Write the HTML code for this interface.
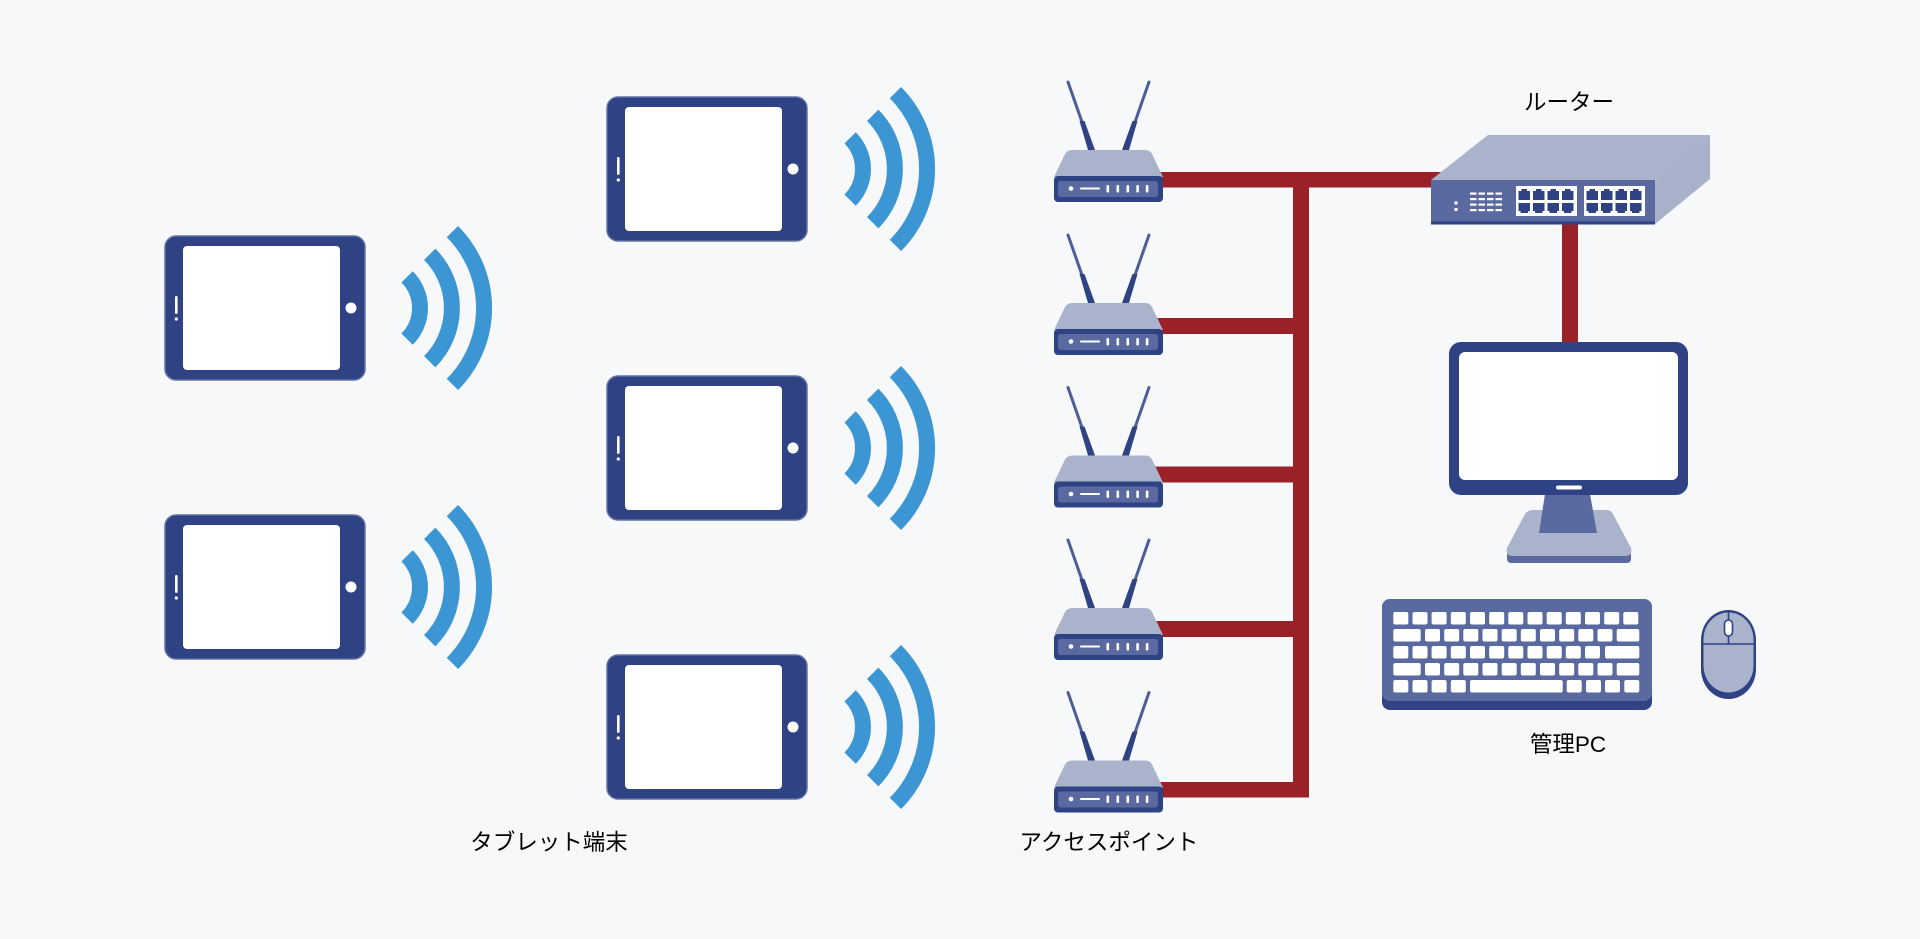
<!DOCTYPE html>
<html>
<head>
<meta charset="utf-8">
<style>
  html,body{margin:0;padding:0;background:#f7f8fa;}
  svg{display:block;}
  text{font-family:"Liberation Sans","Noto Sans CJK JP",sans-serif;font-size:22.5px;fill:#000;}
</style>
</head>
<body>
<svg width="1920" height="939" viewBox="0 0 1920 939" xmlns="http://www.w3.org/2000/svg">
  <defs>
    <g id="tablet">
      <rect x="0" y="0" width="200" height="144" rx="11" fill="#2e4284" stroke="#6471a6" stroke-width="1.5"/>
      <rect x="18" y="10" width="157" height="124" rx="4" fill="#ffffff"/>
      <circle cx="186" cy="72" r="5.5" fill="#ffffff"/>
      <rect x="10" y="60" width="2.6" height="18" rx="1.2" fill="#ffffff"/>
      <circle cx="11.3" cy="83" r="1.6" fill="#ffffff"/>
    </g>
    <g id="wifi" fill="none" stroke="#3d96d4" stroke-width="16">
      <path d="M31.1,-31.1 A44,44 0 0 1 31.1,31.1"/>
      <path d="M53.7,-53.7 A76,76 0 0 1 53.7,53.7"/>
      <path d="M76.4,-76.4 A108,108 0 0 1 76.4,76.4"/>
    </g>
    <g id="ap">
      <line x1="14" y1="-68" x2="28" y2="-28" stroke="#4d5d98" stroke-width="3" stroke-linecap="round"/>
      <polygon points="25.5,-29 30.5,-29 41,0 34,0" fill="#2e4284"/>
      <line x1="95" y1="-68" x2="81" y2="-28" stroke="#4d5d98" stroke-width="3" stroke-linecap="round"/>
      <polygon points="78.5,-29 83.5,-29 75,0 68,0" fill="#2e4284"/>
      <path d="M19,0 L91,0 Q96,0 98,4 L109,27 L0,27 L11,4 Q13,0 19,0 Z" fill="#aab3cc"/>
      <rect x="0" y="26" width="109" height="26" rx="4" fill="#2e4284"/>
      <rect x="4" y="31" width="100" height="16" rx="2.5" fill="#5a6aa0"/>
      <circle cx="17" cy="38.5" r="2.3" fill="#ffffff"/>
      <rect x="26" y="37.5" width="20" height="2" rx="1" fill="#ffffff"/>
      <rect x="52.5" y="35" width="2.6" height="7.5" rx="1" fill="#ffffff"/>
      <rect x="62.5" y="35" width="2.6" height="7.5" rx="1" fill="#ffffff"/>
      <rect x="72.5" y="35" width="2.6" height="7.5" rx="1" fill="#ffffff"/>
      <rect x="82.3" y="35" width="2.6" height="7.5" rx="1" fill="#ffffff"/>
      <rect x="91.8" y="35" width="2.6" height="7.5" rx="1" fill="#ffffff"/>
    </g>
    <g id="portT">
      <path d="M0,2 h3 v-2 h5.5 v2 h3 v9 h-11.5 Z" fill="#2e4284"/>
    </g>
    <g id="portB">
      <path d="M0,0 h11.5 v8 h-2 v2 h-7.5 v-2 h-2 Z" fill="#2e4284"/>
    </g>
  </defs>

  <rect x="0" y="0" width="1920" height="939" fill="#f7f8fa"/>

  <use href="#tablet" x="165" y="236"/>
  <use href="#wifi" x="376" y="308"/>
  <use href="#tablet" x="165" y="515"/>
  <use href="#wifi" x="376" y="587"/>
  <use href="#tablet" x="607" y="97"/>
  <use href="#wifi" x="819" y="169"/>
  <use href="#tablet" x="607" y="376"/>
  <use href="#wifi" x="819" y="448"/>
  <use href="#tablet" x="607" y="655"/>
  <use href="#wifi" x="819" y="727"/>

  <g fill="#9b2128">
    <rect x="1140" y="172" width="310" height="15.5"/>
    <rect x="1293" y="172" width="16" height="625.5"/>
    <rect x="1140" y="318" width="169" height="16"/>
    <rect x="1140" y="466.5" width="169" height="16"/>
    <rect x="1140" y="621" width="169" height="16"/>
    <rect x="1140" y="782" width="169" height="15.5"/>
    <rect x="1562" y="215" width="16" height="130"/>
  </g>

  <use href="#ap" x="1054" y="150"/>
  <use href="#ap" x="1054" y="303"/>
  <use href="#ap" x="1054" y="455.5"/>
  <use href="#ap" x="1054" y="608"/>
  <use href="#ap" x="1054" y="760.5"/>

  <polygon points="1431,180 1488,135 1710,135 1655,180" fill="#aab3cc"/>
  <polygon points="1655,180 1710,135 1710,179 1655,224" fill="#a8b1ca"/>
  <rect x="1431" y="180" width="224" height="44" fill="#5a6aa0"/>
  <rect x="1431" y="221.5" width="224" height="3" fill="#2e4284"/>
  <g fill="#ffffff">
    <rect x="1454.5" y="201.5" width="3" height="3"/>
    <rect x="1454.5" y="208" width="3" height="3"/>
    <rect x="1470" y="192.5" width="6.5" height="2.2"/><rect x="1478.5" y="192.5" width="6.5" height="2.2"/><rect x="1487" y="192.5" width="6.5" height="2.2"/><rect x="1495.5" y="192.5" width="6.5" height="2.2"/>
    <rect x="1470" y="198" width="6.5" height="2.2"/><rect x="1478.5" y="198" width="6.5" height="2.2"/><rect x="1487" y="198" width="6.5" height="2.2"/><rect x="1495.5" y="198" width="6.5" height="2.2"/>
    <rect x="1470" y="203.5" width="6.5" height="2.2"/><rect x="1478.5" y="203.5" width="6.5" height="2.2"/><rect x="1487" y="203.5" width="6.5" height="2.2"/><rect x="1495.5" y="203.5" width="6.5" height="2.2"/>
    <rect x="1470" y="209" width="6.5" height="2.2"/><rect x="1478.5" y="209" width="6.5" height="2.2"/><rect x="1487" y="209" width="6.5" height="2.2"/><rect x="1495.5" y="209" width="6.5" height="2.2"/>
    <rect x="1516" y="186" width="61" height="30"/>
    <rect x="1584" y="186" width="61" height="30"/>
  </g>
  <use href="#portT" x="1518.5" y="189"/><use href="#portT" x="1533" y="189"/><use href="#portT" x="1547.5" y="189"/><use href="#portT" x="1562" y="189"/>
  <use href="#portB" x="1518.5" y="203"/><use href="#portB" x="1533" y="203"/><use href="#portB" x="1547.5" y="203"/><use href="#portB" x="1562" y="203"/>
  <use href="#portT" x="1586.5" y="189"/><use href="#portT" x="1601" y="189"/><use href="#portT" x="1615.5" y="189"/><use href="#portT" x="1630" y="189"/>
  <use href="#portB" x="1586.5" y="203"/><use href="#portB" x="1601" y="203"/><use href="#portB" x="1615.5" y="203"/><use href="#portB" x="1630" y="203"/>

  <rect x="1507" y="545" width="124" height="18" rx="4" fill="#5a6aa0"/>
  <path d="M1533,510 L1606,510 Q1611,510 1613,514 L1631,548 Q1633,556 1625,556 L1513,556 Q1505,556 1507,548 L1525,514 Q1528,510 1533,510 Z" fill="#aab3cc"/>
  <polygon points="1545,494 1590,494 1597,533 1539,533" fill="#5a6aa0"/>
  <rect x="1449" y="342" width="239" height="153" rx="12" fill="#2e4284"/>
  <rect x="1459" y="352" width="219" height="128" rx="6" fill="#ffffff"/>
  <rect x="1556" y="485.5" width="26" height="4" rx="2" fill="#ffffff"/>

  <rect x="1382" y="599" width="270" height="111" rx="8" fill="#2e4284"/>
  <rect x="1382" y="599" width="270" height="102" rx="8" fill="#5a6aa0"/>
  <g fill="#ffffff">
    <rect x="1393.3" y="612" width="15" height="12.5" rx="2"/><rect x="1412.5" y="612" width="15" height="12.5" rx="2"/><rect x="1431.6" y="612" width="15" height="12.5" rx="2"/><rect x="1450.8" y="612" width="15" height="12.5" rx="2"/><rect x="1470" y="612" width="15" height="12.5" rx="2"/><rect x="1489.2" y="612" width="15" height="12.5" rx="2"/><rect x="1508.3" y="612" width="15" height="12.5" rx="2"/><rect x="1527.5" y="612" width="15" height="12.5" rx="2"/><rect x="1546.7" y="612" width="15" height="12.5" rx="2"/><rect x="1565.8" y="612" width="15" height="12.5" rx="2"/><rect x="1585" y="612" width="15" height="12.5" rx="2"/><rect x="1604.2" y="612" width="15" height="12.5" rx="2"/><rect x="1623.3" y="612" width="15" height="12.5" rx="2"/>
    <rect x="1393.3" y="629" width="27.4" height="12.5" rx="2"/>
    <rect x="1425" y="629" width="15" height="12.5" rx="2"/><rect x="1444.2" y="629" width="15" height="12.5" rx="2"/><rect x="1463.3" y="629" width="15" height="12.5" rx="2"/><rect x="1482.5" y="629" width="15" height="12.5" rx="2"/><rect x="1501.7" y="629" width="15" height="12.5" rx="2"/><rect x="1520.8" y="629" width="15" height="12.5" rx="2"/><rect x="1540" y="629" width="15" height="12.5" rx="2"/><rect x="1559.2" y="629" width="15" height="12.5" rx="2"/><rect x="1578.3" y="629" width="15" height="12.5" rx="2"/><rect x="1597.5" y="629" width="15" height="12.5" rx="2"/>
    <rect x="1616.7" y="629" width="22.6" height="12.5" rx="2"/>
    <rect x="1393.3" y="646" width="15" height="12.5" rx="2"/><rect x="1412.5" y="646" width="15" height="12.5" rx="2"/><rect x="1431.6" y="646" width="15" height="12.5" rx="2"/><rect x="1450.8" y="646" width="15" height="12.5" rx="2"/><rect x="1470" y="646" width="15" height="12.5" rx="2"/><rect x="1489.2" y="646" width="15" height="12.5" rx="2"/><rect x="1508.3" y="646" width="15" height="12.5" rx="2"/><rect x="1527.5" y="646" width="15" height="12.5" rx="2"/><rect x="1546.7" y="646" width="15" height="12.5" rx="2"/><rect x="1565.8" y="646" width="15" height="12.5" rx="2"/><rect x="1585" y="646" width="15" height="12.5" rx="2"/>
    <rect x="1605" y="646" width="34.3" height="12.5" rx="2"/>
    <rect x="1393.3" y="663" width="27.4" height="12.5" rx="2"/>
    <rect x="1425" y="663" width="15" height="12.5" rx="2"/><rect x="1444.2" y="663" width="15" height="12.5" rx="2"/><rect x="1463.3" y="663" width="15" height="12.5" rx="2"/><rect x="1482.5" y="663" width="15" height="12.5" rx="2"/><rect x="1501.7" y="663" width="15" height="12.5" rx="2"/><rect x="1520.8" y="663" width="15" height="12.5" rx="2"/><rect x="1540" y="663" width="15" height="12.5" rx="2"/><rect x="1559.2" y="663" width="15" height="12.5" rx="2"/><rect x="1578.3" y="663" width="15" height="12.5" rx="2"/><rect x="1597.5" y="663" width="15" height="12.5" rx="2"/>
    <rect x="1616.7" y="663" width="22.6" height="12.5" rx="2"/>
    <rect x="1393.3" y="680" width="15" height="12.5" rx="2"/><rect x="1412.5" y="680" width="15" height="12.5" rx="2"/><rect x="1431.6" y="680" width="15" height="12.5" rx="2"/><rect x="1450.8" y="680" width="15" height="12.5" rx="2"/>
    <rect x="1470" y="680" width="92.7" height="12.5" rx="2"/>
    <rect x="1566.7" y="680" width="15" height="12.5" rx="2"/><rect x="1586" y="680" width="15" height="12.5" rx="2"/><rect x="1605" y="680" width="15" height="12.5" rx="2"/><rect x="1624.3" y="680" width="15" height="12.5" rx="2"/>
  </g>

  <rect x="1701" y="610" width="55" height="89" rx="27.5" ry="30" fill="#2e4284"/>
  <rect x="1703.5" y="612.5" width="50" height="80" rx="25" ry="27" fill="#aab3cc"/>
  <line x1="1703" y1="644" x2="1754" y2="644" stroke="#2e4284" stroke-width="1.6"/>
  <line x1="1728.5" y1="612" x2="1728.5" y2="644" stroke="#2e4284" stroke-width="1.6"/>
  <rect x="1724.5" y="620" width="8" height="16" rx="4" fill="#ffffff" stroke="#2e4284" stroke-width="1.6"/>

  <text x="549" y="850" text-anchor="middle">タブレット端末</text>
  <text x="1109" y="850" text-anchor="middle">アクセスポイント</text>
  <text x="1569" y="110" text-anchor="middle">ルーター</text>
  <text x="1568" y="752" text-anchor="middle">管理PC</text>
</svg>
</body>
</html>
